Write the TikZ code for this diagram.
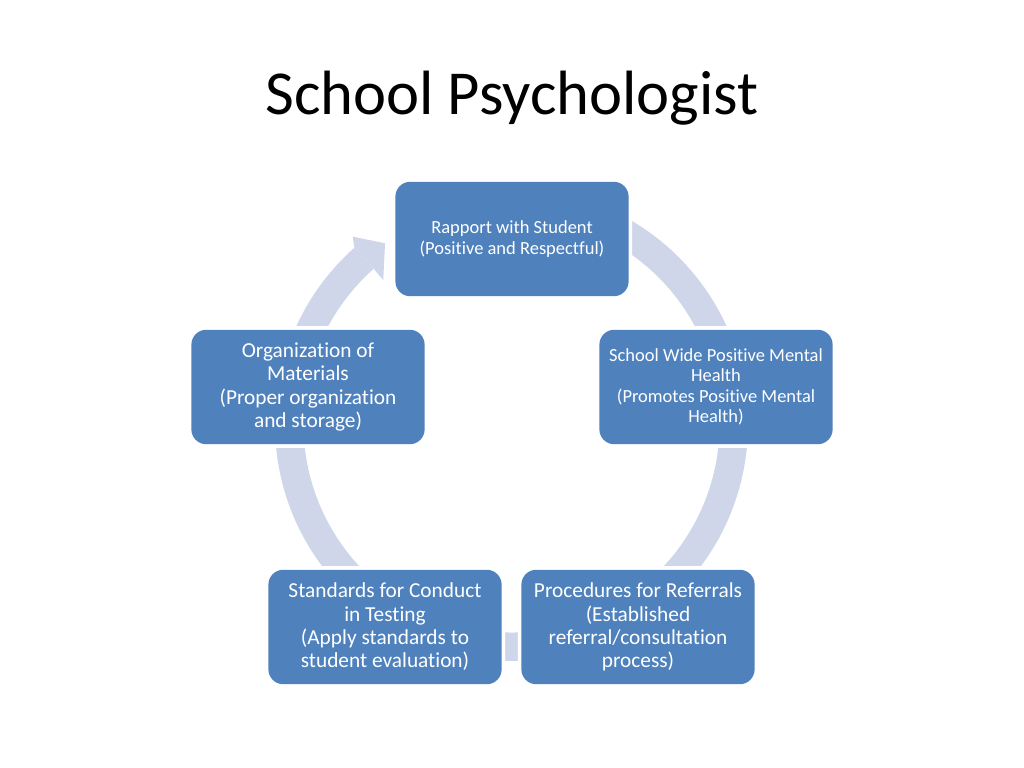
\documentclass[tikz,border=0pt]{standalone}
\usepackage{fontspec}
\setmainfont{Carlito}[RawFeature=-liga]
\usetikzlibrary{calc}
\definecolor{boxblue}{RGB}{79,129,189}
\definecolor{bandblue}{RGB}{207,214,233}
\begin{document}
\begin{tikzpicture}[x=0.703125pt,y=-0.703125pt,
  box/.style={fill=boxblue, preaction={draw=white,line width=5pt}, rounded corners=10.5pt,
    text=white, align=center, inner sep=0pt, minimum width=164pt, minimum height=80.5pt},
  bigtext/.style={font=\fontsize{15}{16.4}\selectfont},
  smalltext/.style={font=\fontsize{13}{14.3}\selectfont},
  band/.style={fill=bandblue}]
\fill[white] (0,0) rectangle (1024,768);
\useasboundingbox (0,0) rectangle (1024,768);
\coordinate (C) at (511.5,424.5);
% cycle band
\fill[band] ($(C)+(-131.5:236.5)$) arc[start angle=-131.5, end angle=-420, radius=236.5]
  -- ($(C)+(-420:208)$) arc[start angle=-420, end angle=-131.5, radius=208] -- cycle;
\fill[band] ($(C)+(-130.2:245.9)$) -- ($(C)+(-124.9:221)$) -- ($(C)+(-131.6:193.2)$)
  -- ($(C)+(-131.5:207)$) -- ($(C)+(-131.5:237.5)$) -- cycle;
% title
\node[font=\fontsize{44}{52}\selectfont, anchor=base, text=black] (title) at (512,115) {School Psychologist};
% boxes
\node[box, smalltext] (rapport) at (512,239) {Rapport with Student\\(Positive and Respectful)};
\node[box, smalltext] (health) at (716,387) {School Wide Positive Mental\\Health\\(Promotes Positive Mental\\Health)};
\node[box, bigtext] (referrals) at (638,627) {Procedures for Referrals\\(Established\\referral/consultation\\process)};
\node[box, bigtext] (standards) at (385,627) {Standards for Conduct\\in Testing\\(Apply standards to\\student evaluation)};
\node[box, bigtext] (organization) at (308,387) {Organization of\\Materials\\(Proper organization\\and storage)};
\end{tikzpicture}
\end{document}
